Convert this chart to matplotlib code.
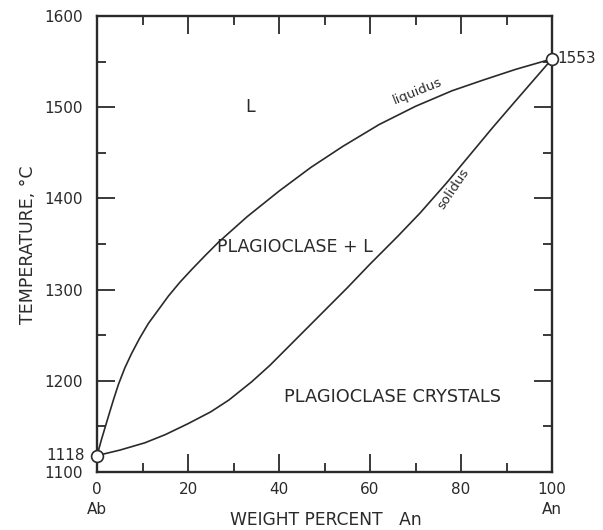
import matplotlib
matplotlib.use("Agg")
import matplotlib.pyplot as plt
from matplotlib.ticker import MultipleLocator

plt.rcParams['font.family'] = ['DejaVu Sans']

# Data
liq_an = [0, 1, 2.5, 3.6, 4.7, 6.1, 7.6, 9.4, 11.3, 13.5, 15.7, 18.2, 20.8, 23.7, 26.7, 33, 40,
          47, 54, 62, 70, 78, 85, 92, 100]
liq_t = [1118, 1136, 1161, 1179, 1196, 1214, 1230, 1247, 1263, 1278, 1293, 1308, 1322, 1337,
         1352, 1380, 1408, 1434, 1457, 1481, 1501, 1518, 1530, 1541.5, 1553]
sol_an = [0, 5, 10.5, 15, 20, 25, 29, 34, 38, 43, 49, 55, 60, 66, 71, 77, 82, 87, 92, 96, 100]
sol_t = [1118, 1124, 1132, 1141, 1153, 1166, 1179, 1199, 1217, 1242, 1272, 1302, 1328,
         1358, 1384, 1418, 1448, 1478, 1507, 1530, 1553]
end_an = [0, 100]
end_t = [1118, 1553]
x_ticks = [0, 20, 40, 60, 80, 100]
y_ticks = [1100, 1200, 1300, 1400, 1500, 1600]

ink = '#2a2a2a'
fs = 11
fig = plt.figure(figsize=(6.03, 5.30), dpi=100)
ax = fig.add_axes([0.1609, 0.1094, 0.7546, 0.8604])

ax.plot(liq_an, liq_t, color=ink, lw=1.2, clip_on=False, solid_joinstyle='round')
ax.plot(sol_an, sol_t, color=ink, lw=1.2, clip_on=False, solid_joinstyle='round')
ax.plot(end_an, end_t, 'o', ms=8.5, mfc='white', mec=ink, mew=1.2, clip_on=False, zorder=5)

ax.set_xlim(0, 100)
ax.set_ylim(1100, 1600)
ax.set_xticks(x_ticks)
ax.set_yticks(y_ticks)
ax.xaxis.set_minor_locator(MultipleLocator(10))
ax.yaxis.set_minor_locator(MultipleLocator(50))
ax.tick_params(which='both', direction='in', top=True, right=True, colors=ink,
               labelsize=fs, width=1.3)
ax.tick_params(which='major', length=13)
ax.tick_params(which='minor', length=6.5)
ax.tick_params(axis='y', pad=10)
ax.tick_params(axis='x', pad=7)
for s in ax.spines.values():
    s.set_linewidth(1.7)
    s.set_color(ink)

# extra labels
ax.text(-0.027, 1118, '1118', transform=ax.get_yaxis_transform(), ha='right', va='center',
        fontsize=fs, color=ink)
ax.text(1.012, 1553, '1553', transform=ax.get_yaxis_transform(), ha='left', va='center',
        fontsize=fs, color=ink)
ax.text(0, -0.083, 'Ab', transform=ax.get_xaxis_transform(), ha='center', va='center',
        fontsize=fs, color=ink)
ax.text(100, -0.083, 'An', transform=ax.get_xaxis_transform(), ha='center', va='center',
        fontsize=fs, color=ink)
fig.text(326 / 603, 1 - 520 / 530, 'WEIGHT PERCENT   An', ha='center', va='center',
         fontsize=12.3, color=ink)
fig.text(28 / 603, 1 - 245 / 530, 'TEMPERATURE, °C', ha='center', va='center',
         fontsize=12.5, color=ink, rotation=90)

ax.text(33.6, 1500, 'L', ha='center', va='center', fontsize=12.5, color=ink)
ax.text(43.5, 1347, 'PLAGIOCLASE + L', ha='center', va='center', fontsize=12.5, color=ink)
ax.text(65, 1182, 'PLAGIOCLASE CRYSTALS', ha='center', va='center', fontsize=12.8, color=ink)
ax.text(70.5, 1517, 'liquidus', ha='center', va='center', fontsize=9.5, color=ink, rotation=22)
ax.text(78.3, 1411, 'solidus', ha='center', va='center', fontsize=9.5, color=ink, rotation=56)

fig.savefig('out.png', dpi=100)
